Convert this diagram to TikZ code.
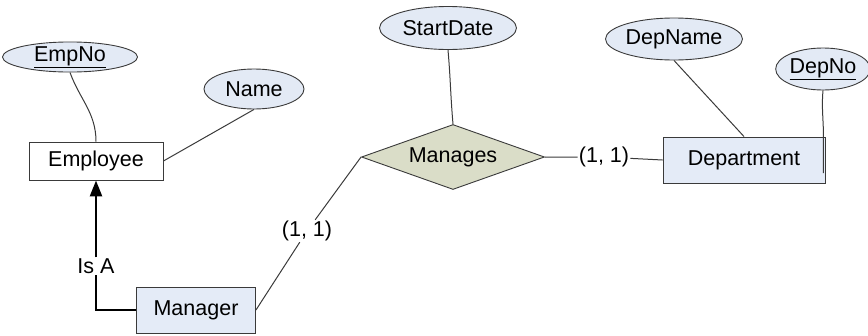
\documentclass[tikz,border=0pt]{standalone}
\usepackage{fontspec}
\setmainfont{Liberation Sans}
\usetikzlibrary{shapes.geometric,arrows.meta}
\definecolor{attrfill}{HTML}{E3EAF5}
\definecolor{entfill}{HTML}{E4EBF7}
\definecolor{relfill}{HTML}{DADDC8}
\definecolor{edgegray}{HTML}{3A3A3A}
\tikzset{
	every node/.style={font=\fontsize{21.5}{26}\selectfont},
	entity/.style={draw=edgegray, line width=0.9pt, rectangle, inner sep=0pt},
	attribute/.style={draw=edgegray, line width=0.9pt, ellipse, fill=attrfill, inner sep=0pt},
	relation/.style={draw=edgegray, line width=0.9pt, diamond, aspect=3, inner sep=0pt, fill=relfill},
	link/.style={draw=edgegray, line width=1pt},
	isalink/.style={draw=black, line width=2.4pt},
	card/.style={inner sep=1pt}
}
\newcommand{\drawattribute}[5]{
	\node[attribute, minimum width=#3, minimum height=#4] (#1) at #2 {#5};
}

\begin{document}
\begin{tikzpicture}[x=1pt,y=-1pt]
	\useasboundingbox (0,0) rectangle (868,335);
	\node[entity, minimum width=134pt, minimum height=38pt, fill=white] (emp) at (96,161) {Employee};
	\node[entity, minimum width=119pt, minimum height=46pt, fill=entfill] (mgr) at (196,310) {Manager};
	\node[entity, minimum width=162pt, minimum height=46pt, fill=entfill] (dept) at (744,160) {Department};
	\node[relation, minimum width=183pt, minimum height=65pt] (manages) at (453,157) {Manages};
	\drawattribute{empno}{(70,57)}{135pt}{29pt}{\underline{EmpNo}}
	\drawattribute{name}{(254,89)}{100pt}{40pt}{Name}
	\drawattribute{start}{(448,28)}{137pt}{43pt}{StartDate}
	\drawattribute{depname}{(674,39)}{137pt}{42pt}{DepName}
	\drawattribute{depno}{(823,69)}{88pt}{42pt}{\underline{DepNo}}
	\node[card] (cardmgr) at (307,231) {(1, 1)};
	\node[card] (carddep) at (604,157) {(1, 1)};
	\node[card] (isa) at (96,266) {Is A};
	\path[link] (empno.south) to[out=-70,in=90] (emp.north);
	\path[link] (emp.east) -- (name.south);
	\path[link] (start.south) to[out=-85,in=95] (manages.north);
	\path[link] (depname.south) -- (dept.north);
	\path[link] (depno.south) to[out=-95,in=90] ([xshift=-2pt]dept.north east) -- ([xshift=-2pt,yshift=-13pt]dept.east);
	\path[link] (mgr.east) -- (cardmgr) -- (manages.west);
	\path[link] (manages.east) -- (carddep) -- (dept.west);
	\path[isalink] (mgr.west) -| (isa.south);
	\path[isalink, -{Triangle[width=12pt,length=16pt]}] (isa.north) -- (emp.south);
\end{tikzpicture}
\end{document}
